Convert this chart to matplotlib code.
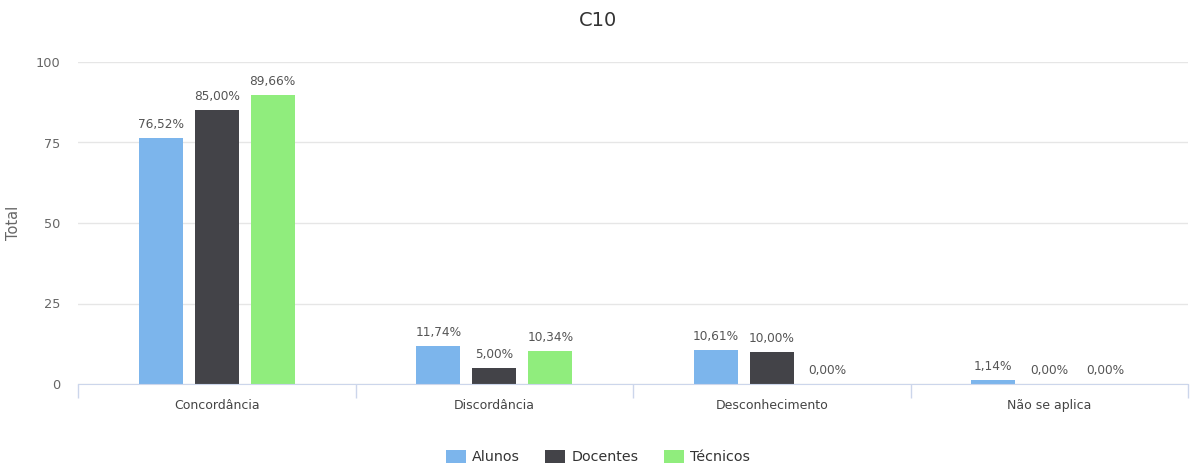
import matplotlib
matplotlib.use("Agg")
import matplotlib.pyplot as plt
import numpy as np

categories = ["Concordância", "Discordância", "Desconhecimento", "Não se aplica"]
series_names = ["Alunos", "Docentes", "Técnicos"]
alunos = [76.52, 11.74, 10.61, 1.14]
docentes = [85.00, 5.00, 10.00, 0.00]
tecnicos = [89.66, 10.34, 0.00, 0.00]
colors = ["#7cb5ec", "#434348", "#90ed7d"]
yticks = [0, 25, 50, 75, 100]

plt.rcParams['font.family'] = ['DejaVu Sans']

fig = plt.figure(figsize=(11.9, 4.67), dpi=100)
ax = fig.add_axes([78/1190, 1-384/467, 1110/1190, 322/467])

x = np.arange(len(categories))
offset = 0.2018
width = 0.1586
data = [alunos, docentes, tecnicos]
for i, (name, vals, c) in enumerate(zip(series_names, data, colors)):
    pos = x + (i - 1) * offset
    ax.bar(pos, vals, width=width, color=c, label=name, zorder=3)
    for p, v in zip(pos, vals):
        ax.text(p, v + 2.2, f"{v:.2f}%".replace(".", ","), ha="center", va="bottom",
                fontsize=8.7, color="#555555", zorder=4)

ax.set_xlim(-0.5, 3.5)
ax.set_ylim(0, 100)
ax.set_yticks(yticks)
ax.set_yticklabels([str(t) for t in yticks], fontsize=9.3, color="#666666")
ax.tick_params(axis="y", length=0, pad=13)
ax.grid(axis="y", color="#e6e6e6", linewidth=1, zorder=0)
ax.set_xticks(x)
ax.set_xticklabels(categories, fontsize=9, color="#444444")
ax.tick_params(axis="x", length=0, pad=11)
# category boundary ticks
ax.set_xticks(np.arange(-0.5, 4.0, 1.0), minor=True)
ax.tick_params(axis="x", which="minor", length=10, color="#ccd6eb", width=1)

for s in ["top", "right", "left"]:
    ax.spines[s].set_visible(False)
ax.spines["bottom"].set_color("#ccd6eb")
ax.spines["bottom"].set_zorder(5)

ax.set_ylabel("Total", fontsize=10.5, color="#666666", labelpad=10)
fig.text(598/1190, 1-20/467, "C10", ha="center", va="center", fontsize=14, color="#333333")

leg = fig.legend(loc="center", bbox_to_anchor=(598/1190, 1-457/467), ncol=3, frameon=False,
                 fontsize=10.3, handlelength=1.4, handleheight=1.0, columnspacing=1.75,
                 handletextpad=0.42, labelcolor="#333333")

fig.savefig("out.png", dpi=100, facecolor="white")
